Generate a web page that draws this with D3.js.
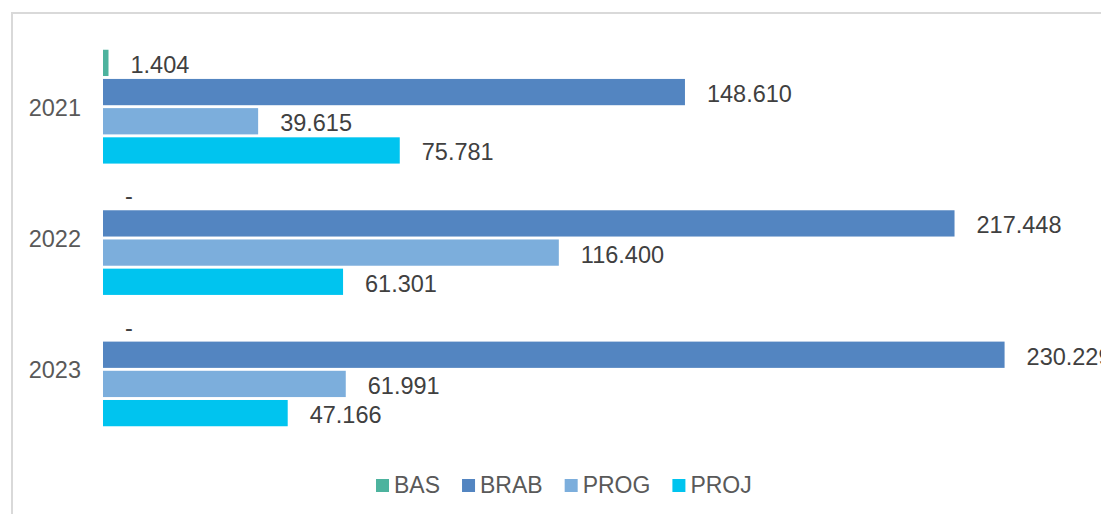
<!DOCTYPE html>
<html>
<head>
<meta charset="utf-8">
<script src="https://cdn.jsdelivr.net/npm/d3@7"></script>
<style>
  body { margin: 0; background: #fff; }
  svg { display: block; font-family: "Liberation Sans", Arial, sans-serif; }
</style>
</head>
<body>
<svg id="chart"></svg>
<script>
// data
const years = ["2021", "2022", "2023"];
const seriesNames = ["BAS", "BRAB", "PROG", "PROJ"];
const bas  = [1.404, 0, 0];
const brab = [148.610, 217.448, 230.229];
const prog = [39.615, 116.400, 61.991];
const proj = [75.781, 61.301, 47.166];
const colors = ["#4db39e", "#5385c1", "#7caedc", "#00c4ef"];

const W = 1101, H = 514;
const svg = d3.select("#chart").attr("width", W).attr("height", H);

// chart frame (only top and left edges fall inside the window)
svg.append("path")
  .attr("d", `M12,${H} V13 H${W}`)
  .attr("fill", "none")
  .attr("stroke", "#d9d9d9")
  .attr("stroke-width", 2);

const values = [bas, brab, prog, proj];
const rows = [];
years.forEach((y, i) => {
  seriesNames.forEach((s, j) => rows.push({ year: y, series: s, value: values[j][i], idx: j }));
});

const x = d3.scaleLinear().domain([0, 250]).range([103, 103 + 979]);
const y0 = d3.scaleBand().domain(years).range([41, 435])
  .paddingInner(0.111).paddingOuter(0.0555);
const y1 = d3.scaleBand().domain(seriesNames).range([0, y0.bandwidth()])
  .paddingInner(0.1).paddingOuter(0.05);

// category labels
svg.append("g").selectAll("text")
  .data(years)
  .join("text")
  .attr("x", 81)
  .attr("y", d => y0(d) + y0.bandwidth() / 2 + 9)
  .attr("text-anchor", "end")
  .attr("font-size", 23.5)
  .attr("fill", "#595959")
  .text(d => d);

// bars
svg.append("g").selectAll("rect")
  .data(rows.filter(d => d.value > 0))
  .join("rect")
  .attr("x", x(0))
  .attr("y", d => y0(d.year) + y1(d.series))
  .attr("width", d => x(d.value) - x(0))
  .attr("height", y1.bandwidth())
  .attr("fill", d => colors[d.idx]);

// value labels
const fmt = v => v === 0 ? "-" : v.toFixed(3);
svg.append("g").selectAll("text")
  .data(rows)
  .join("text")
  .attr("x", d => x(d.value) + 22)
  .attr("y", d => y0(d.year) + y1(d.series) + y1.bandwidth() / 2 + 10)
  .attr("font-size", 23.5)
  .attr("fill", "#404040")
  .text(d => fmt(d.value));

// legend
const legend = svg.append("g");
let lx = 376;
seriesNames.forEach((s, i) => {
  legend.append("rect")
    .attr("x", lx).attr("y", 479)
    .attr("width", 13).attr("height", 13)
    .attr("fill", colors[i]);
  const t = legend.append("text")
    .attr("x", lx + 18).attr("y", 493)
    .attr("font-size", 23)
    .attr("fill", "#595959")
    .text(s);
  lx += 18 + t.node().getComputedTextLength() + 22;
});
</script>
</body>
</html>
